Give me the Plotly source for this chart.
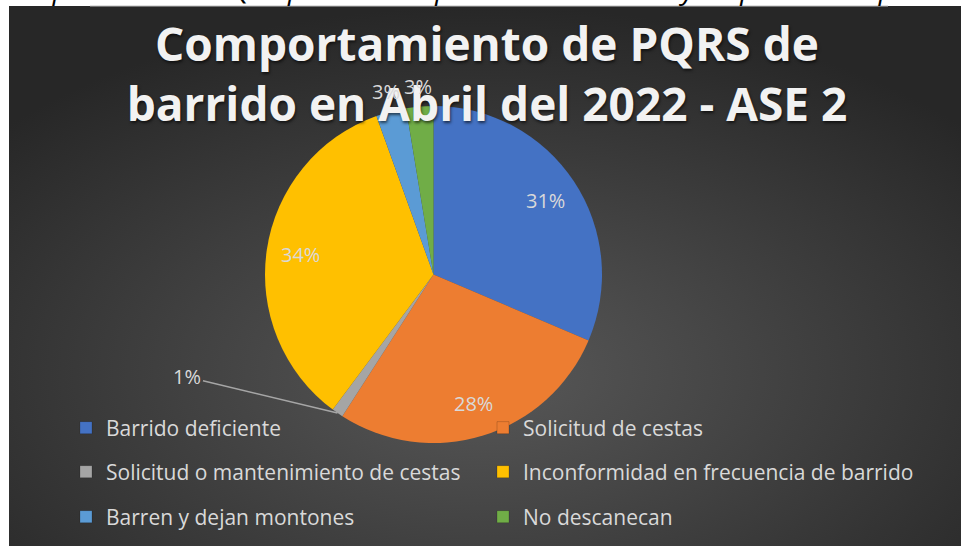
import base64
import math
import plotly.graph_objects as go

# ---- data ----
categories = [
    "Barrido deficiente",
    "Solicitud de cestas",
    "Solicitud o mantenimiento de cestas",
    "Inconformidad en frecuencia de barrido",
    "Barren y dejan montones",
    "No descanecan",
]
shares = [31.4, 27.7, 1.1, 34.3, 2.9, 2.6]
colors = ["#4472C4", "#ED7D31", "#A5A5A5", "#FFC000", "#5B9BD5", "#70AD47"]
title_text = "Comportamiento de PQRS de<br>barrido en Abril del 2022 - ASE 2"
caption_text = ("Comportamiento PQRS para el componente de barrido y limpieza "
                "en el periodo de enero a abril")

# ---- styling / geometry ----
W, H = 961, 546
CX, CY, R = 433.5, 274.5, 168.5           # pie centre / radius in px
dom_x = [(CX - R) / W, (CX + R) / W]
dom_y = [1 - (CY + R) / H, 1 - (CY - R) / H]
label_mode = ["inside", "inside", "leader", "inside", "outside", "outside"]
legend_rows = [428, 472, 517]              # row centres (px from top)
legend_cols = [66, 483]                    # legend origins (px from left)
LABEL_FONT = dict(family="Open Sans", size=20, color="#d9d9d9")

# background radial gradient as svg image
bx0, by0 = 9, 6
bw, bh = W - bx0, H - by0
svg = (f'<svg xmlns="http://www.w3.org/2000/svg" width="{bw}" height="{bh}" '
       f'viewBox="0 0 {bw} {bh}"><defs><radialGradient id="g" cx="50%" cy="68%" r="68%">'
       '<stop offset="0" stop-color="#585858"/><stop offset="1" stop-color="#272727"/>'
       f'</radialGradient></defs><rect width="{bw}" height="{bh}" fill="url(#g)"/></svg>')
bg_src = "data:image/svg+xml;base64," + base64.b64encode(svg.encode()).decode()

fig = go.Figure()
fig.add_trace(go.Pie(
    labels=categories,
    values=shares,
    sort=False,
    direction="clockwise",
    rotation=0,
    marker=dict(colors=colors, line=dict(width=0)),
    textinfo="none",
    domain=dict(x=dom_x, y=dom_y),
    hoverinfo="label+percent",
    showlegend=False,
))

# legend entries: 3 rows x 2 columns, one small legend per entry
legend_layouts = {}
for i, (cat, col) in enumerate(zip(categories, colors)):
    row, column = divmod(i, 2)
    key = "legend" if i == 0 else f"legend{i + 1}"
    fig.add_trace(go.Scatter(
        x=[None], y=[None], mode="markers", name=cat,
        marker=dict(symbol="square", size=12, color=col,
                    line=dict(color="rgba(0,0,0,0.35)", width=0.5)),
        legend=key, hoverinfo="skip", showlegend=True,
    ))
    legend_layouts[key] = dict(
        orientation="h", xanchor="left", yanchor="middle",
        x=legend_cols[column] / W, y=1 - legend_rows[row] / H,
        font=dict(family="Open Sans", size=21, color="#d9d9d9"),
        bgcolor="rgba(0,0,0,0)", borderwidth=0,
    )

annotations = []
total = sum(shares)
cum = 0.0
for i, s in enumerate(shares):
    mid = (cum + s / 2) / total
    cum += s
    th = 2 * math.pi * mid
    sx, sy = math.sin(th), -math.cos(th)
    pct = f"{round(s / total * 100)}%"
    mode = label_mode[i]
    if mode == "leader":
        px, py = CX + R * sx, CY + R * sy
        annotations.append(dict(
            x=px / W, y=1 - py / H, xref="paper", yref="paper",
            text=pct, showarrow=True, arrowhead=0,
            arrowwidth=1.5, arrowcolor="#a6a6a6", ax=-150, ay=-36, standoff=0,
            font=LABEL_FONT,
        ))
    else:
        k = 0.8 if mode == "inside" else 1.12
        px, py = CX + k * R * sx, CY + k * R * sy
        annotations.append(dict(
            x=px / W, y=1 - py / H, xref="paper", yref="paper",
            xanchor="center", yanchor="middle",
            text=pct, showarrow=False, font=LABEL_FONT,
        ))

annotations.append(dict(
    x=-6 / W, y=1 + 12 / H, xref="paper", yref="paper", xanchor="left", yanchor="middle",
    text=caption_text, showarrow=False,
    font=dict(family="Open Sans", size=28, color="#000000", style="italic"),
))

fig.update_layout(
    width=W, height=H,
    margin=dict(l=0, r=0, t=0, b=0, autoexpand=False),
    paper_bgcolor="#ffffff",
    plot_bgcolor="rgba(0,0,0,0)",
    xaxis=dict(visible=False),
    yaxis=dict(visible=False),
    title=dict(
        text=title_text, x=487 / W, xanchor="center", y=1 - 61 / H, yanchor="middle",
        font=dict(family="Open Sans", size=46, color="#f2f2f2", weight="bold",
                  shadow="1px 2px 3px rgba(0,0,0,0.6)"),
    ),
    images=[dict(source=bg_src, xref="paper", yref="paper", x=bx0 / W, y=1 - by0 / H,
                 sizex=bw / W, sizey=bh / H, xanchor="left", yanchor="top",
                 sizing="stretch", layer="below")],
    shapes=[dict(type="line", xref="paper", yref="paper", x0=90 / W, x1=888 / W,
                 y0=1 - 6 / H, y1=1 - 6 / H, line=dict(color="#bfbfbf", width=1))],
    annotations=annotations,
    **legend_layouts,
)

fig.write_html("out.html", config={"displayModeBar": False},
               post_script="document.body.style.margin='0';")
